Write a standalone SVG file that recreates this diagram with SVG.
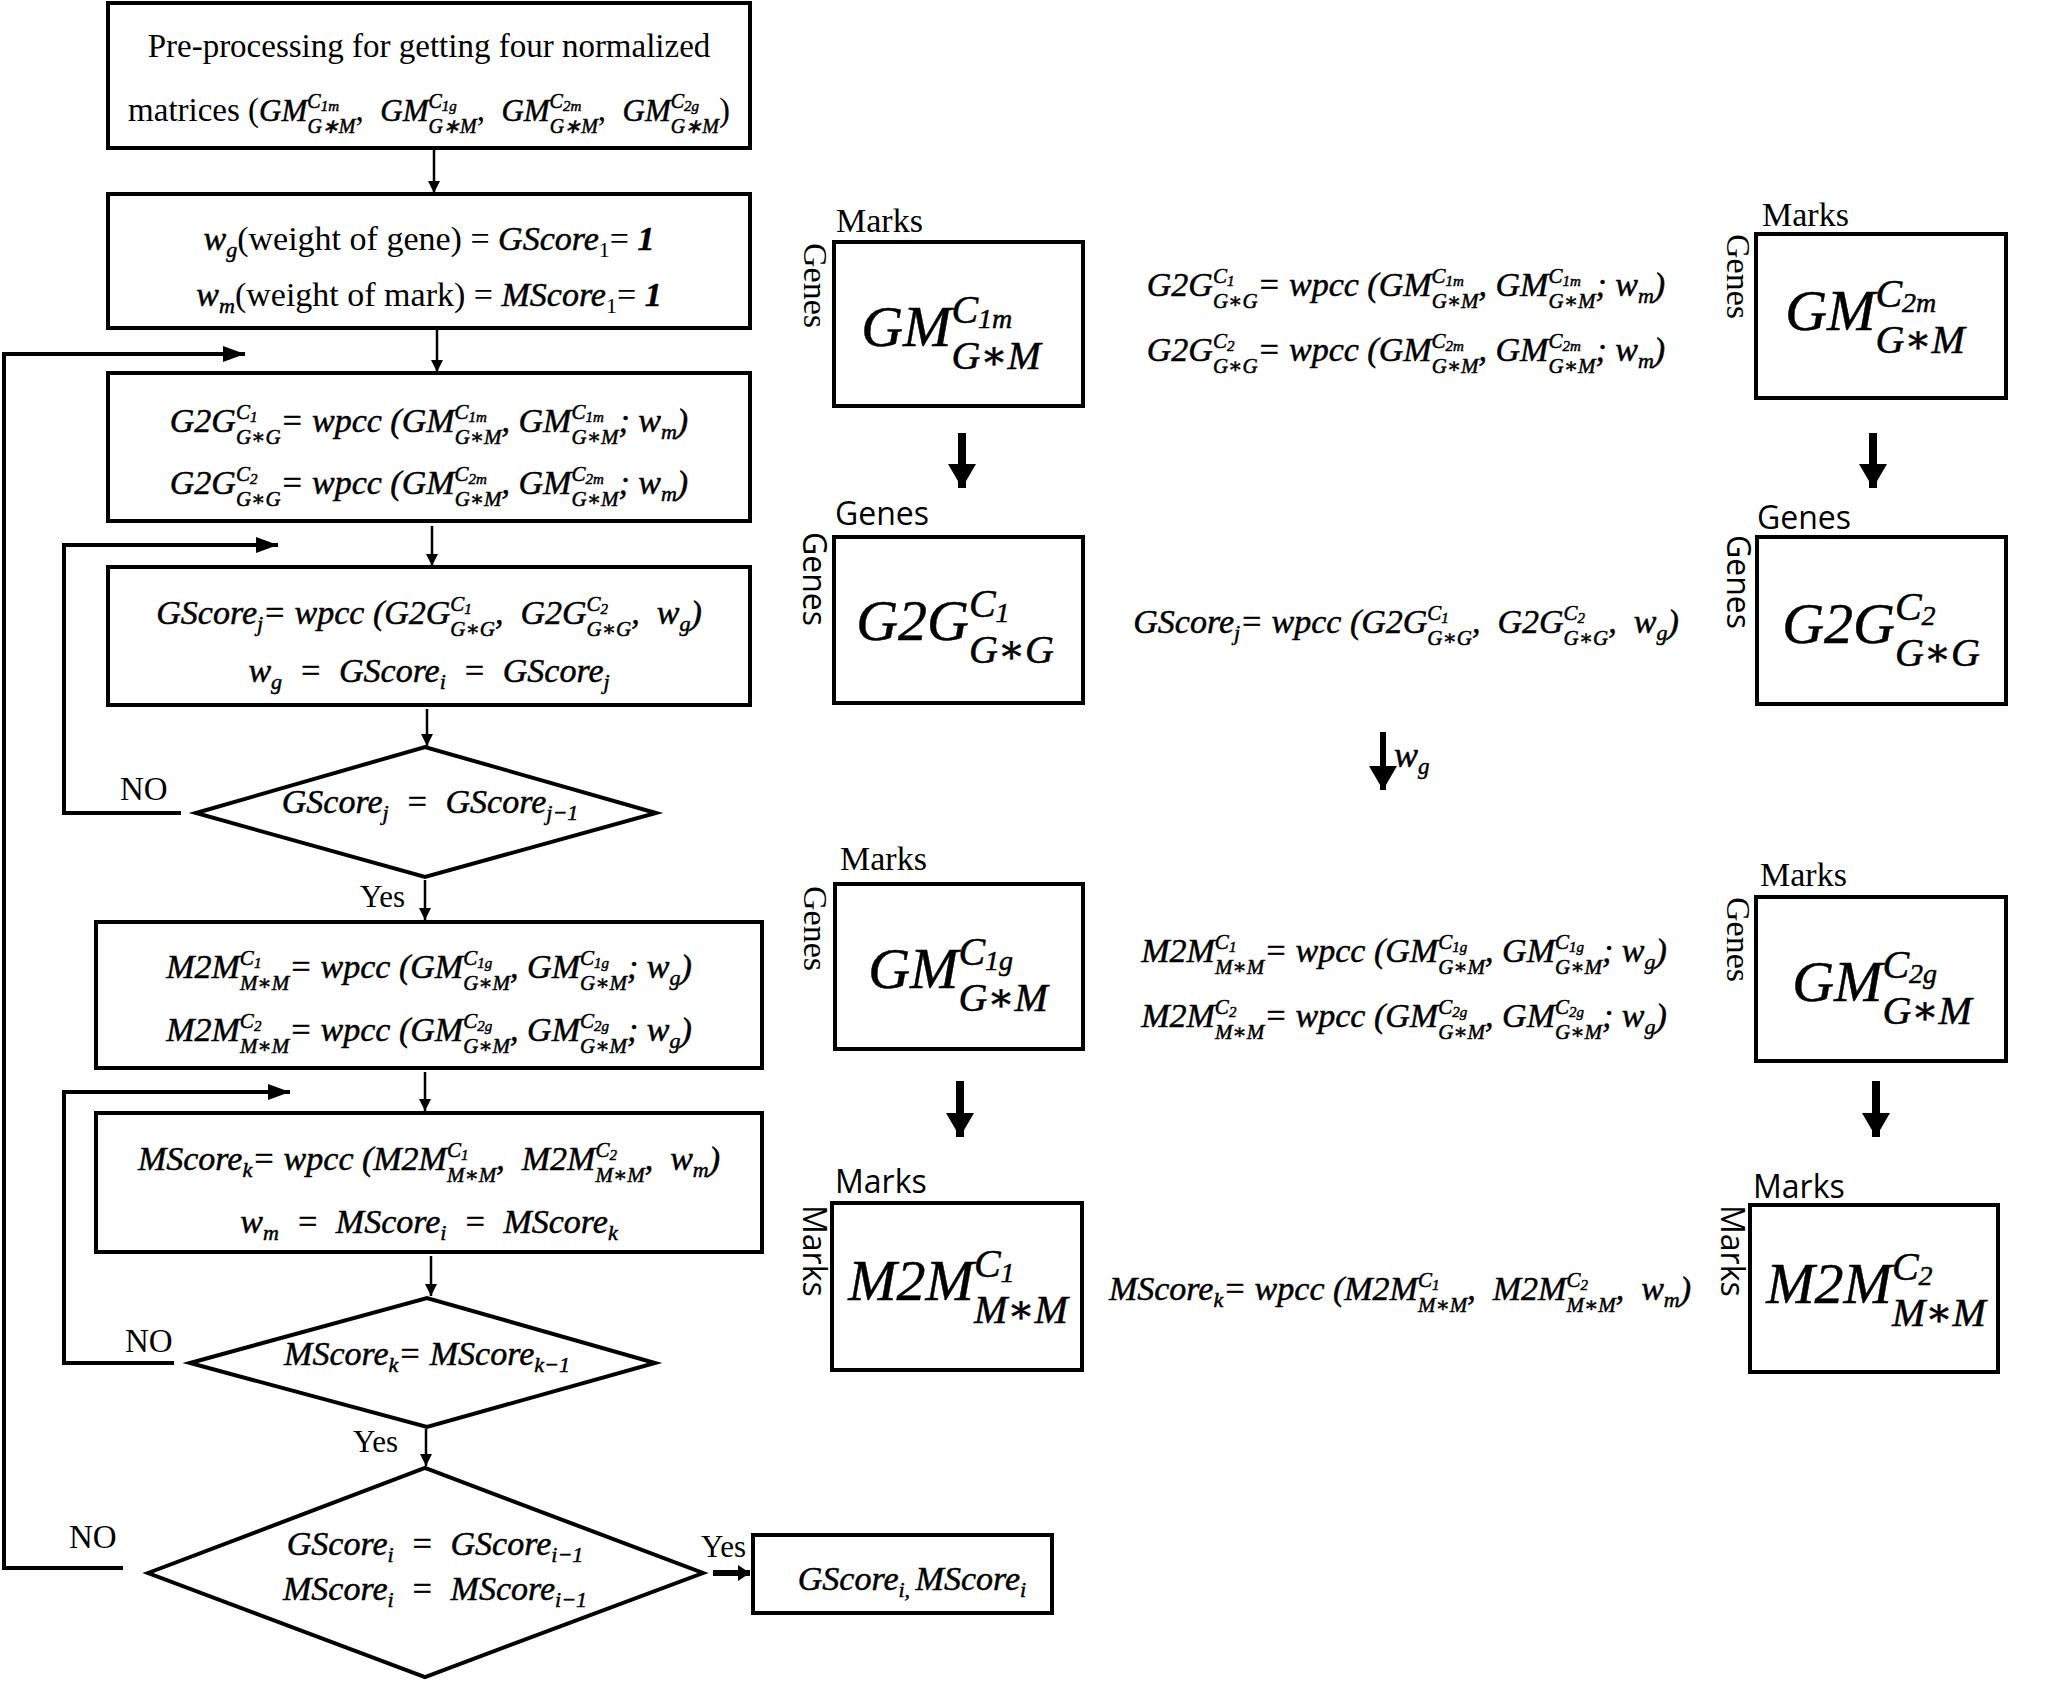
<svg xmlns="http://www.w3.org/2000/svg" width="2059" height="1681" viewBox="0 0 2059 1681">
<style>
text { white-space: pre; fill: #000; }
.t { font-family: "Liberation Serif", "Times New Roman", serif; }
.m { font-family: "Liberation Serif", "DejaVu Serif", serif; font-style: italic; stroke: #000; stroke-width: 0.5; }
.s { font-family: "Open Sans", "Noto Sans", sans-serif; }
.i { font-style: italic; stroke: #000; stroke-width: 0.5; }
.box { fill: #fff; stroke: #000; stroke-width: 4; }
.con { fill: none; stroke: #000; }
</style>
<defs>
<marker id="ahS" viewBox="0 0 12 12" refX="12" refY="6" markerWidth="12" markerHeight="12" markerUnits="userSpaceOnUse" orient="auto"><path d="M0,0 L12,6 L0,12 z"/></marker>
<marker id="ahL" viewBox="0 0 22 16" refX="22" refY="8" markerWidth="22" markerHeight="16" markerUnits="userSpaceOnUse" orient="auto"><path d="M0,0 L22,8 L0,16 z"/></marker>
<marker id="ahM" viewBox="0 0 12 16" refX="12" refY="8" markerWidth="12" markerHeight="16" markerUnits="userSpaceOnUse" orient="auto"><path d="M0,0 L12,8 L0,16 z"/></marker>
<marker id="ahB" viewBox="0 0 24 28" refX="24" refY="14" markerWidth="24" markerHeight="28" markerUnits="userSpaceOnUse" orient="auto"><path d="M0,0 L24,14 L0,28 z"/></marker>
</defs>
<rect width="2059" height="1681" fill="#fff"/>

<g id="connectors">
<line class="con" x1="434" y1="150" x2="434" y2="193" stroke-width="2.5" marker-end="url(#ahS)"/>
<line class="con" x1="437" y1="330" x2="437" y2="372" stroke-width="2.5" marker-end="url(#ahS)"/>
<line class="con" x1="432" y1="526" x2="432" y2="566" stroke-width="2.5" marker-end="url(#ahS)"/>
<line class="con" x1="427" y1="709" x2="427" y2="746" stroke-width="2.5" marker-end="url(#ahS)"/>
<line class="con" x1="425" y1="880" x2="425" y2="920" stroke-width="2.5" marker-end="url(#ahS)"/>
<line class="con" x1="425" y1="1072" x2="425" y2="1111" stroke-width="2.5" marker-end="url(#ahS)"/>
<line class="con" x1="431" y1="1256" x2="431" y2="1296" stroke-width="2.5" marker-end="url(#ahS)"/>
<line class="con" x1="426" y1="1429" x2="426" y2="1466" stroke-width="2.5" marker-end="url(#ahS)"/>
<line class="con" x1="713" y1="1573" x2="750" y2="1573" stroke-width="6" marker-end="url(#ahM)"/>
<polyline class="con" points="123,1568 4,1568 4,354 245,354" stroke-width="4" marker-end="url(#ahL)"/>
<polyline class="con" points="181,813 64,813 64,545 278,545" stroke-width="4" marker-end="url(#ahL)"/>
<polyline class="con" points="174,1363 64,1363 64,1092 290,1092" stroke-width="4" marker-end="url(#ahL)"/>
<line class="con" x1="962" y1="433" x2="962" y2="488" stroke-width="8" marker-end="url(#ahB)"/>
<line class="con" x1="1873" y1="433" x2="1873" y2="488" stroke-width="8" marker-end="url(#ahB)"/>
<line class="con" x1="960" y1="1081" x2="960" y2="1137" stroke-width="8" marker-end="url(#ahB)"/>
<line class="con" x1="1876" y1="1081" x2="1876" y2="1137" stroke-width="8" marker-end="url(#ahB)"/>
<line class="con" x1="1383" y1="732" x2="1383" y2="790" stroke-width="6" marker-end="url(#ahB)"/>
<text class="m" x="1394" y="767" font-size="36">w<tspan font-size="23" dy="7">g</tspan></text>
<text class="t" x="120" y="800" font-size="33">NO</text>
<text class="t" x="125" y="1352" font-size="33">NO</text>
<text class="t" x="69" y="1548" font-size="33">NO</text>
<text class="t" x="360" y="907" font-size="31">Yes</text>
<text class="t" x="353" y="1452" font-size="31">Yes</text>
<text class="t" x="701" y="1557" font-size="31">Yes</text>
</g>

<g id="preprocess">
<rect class="box" x="108" y="3" width="642" height="145"/>
<text class="t" x="429" y="57" font-size="33" text-anchor="middle">Pre-processing for getting four normalized</text>
<text class="t" x="429" y="121" font-size="33" text-anchor="middle">matrices (<tspan class="i" font-size="31">GM</tspan><tspan class="i" font-size="20" dy="-13">C</tspan><tspan class="i" font-size="15" dy="3">1m</tspan><tspan class="i" font-size="20" dx="-31.6" dy="22">G∗M</tspan><tspan dy="-12">,  </tspan><tspan class="i" font-size="31">GM</tspan><tspan class="i" font-size="20" dy="-13">C</tspan><tspan class="i" font-size="15" dy="3">1g</tspan><tspan class="i" font-size="20" dx="-28.3" dy="22">G∗M</tspan><tspan dy="-12">,  </tspan><tspan class="i" font-size="31">GM</tspan><tspan class="i" font-size="20" dy="-13">C</tspan><tspan class="i" font-size="15" dy="3">2m</tspan><tspan class="i" font-size="20" dx="-31.6" dy="22">G∗M</tspan><tspan dy="-12">,  </tspan><tspan class="i" font-size="31">GM</tspan><tspan class="i" font-size="20" dy="-13">C</tspan><tspan class="i" font-size="15" dy="3">2g</tspan><tspan class="i" font-size="20" dx="-28.3" dy="22">G∗M</tspan><tspan dy="-12">)</tspan></text>
</g>

<g id="init-weights">
<rect class="box" x="108" y="194" width="642" height="134"/>
<text class="t" x="429" y="250" font-size="34" text-anchor="middle"><tspan class="i" font-size="34">w</tspan><tspan class="i" font-size="22" dy="7">g</tspan><tspan dy="-7">(weight of gene) = </tspan><tspan class="i" font-size="34">GScore</tspan><tspan font-size="22" dy="7">1</tspan><tspan dy="-7">= </tspan><tspan class="i" font-weight="bold" font-size="34">1</tspan></text>
<text class="t" x="429" y="306" font-size="34" text-anchor="middle"><tspan class="i" font-size="34">w</tspan><tspan class="i" font-size="22" dy="7">m</tspan><tspan dy="-7">(weight of mark) = </tspan><tspan class="i" font-size="34">MScore</tspan><tspan font-size="22" dy="7">1</tspan><tspan dy="-7">= </tspan><tspan class="i" font-weight="bold" font-size="34">1</tspan></text>
</g>

<g id="g2g-step">
<rect class="box" x="108" y="373" width="642" height="148"/>
<text class="m" x="429" y="432" font-size="34" text-anchor="middle">G2G<tspan font-size="21" dy="-13">C</tspan><tspan font-size="15" dy="3">1</tspan><tspan font-size="21" dx="-21.5" dy="22">G∗G</tspan><tspan dy="-12">= wpcc (GM</tspan><tspan font-size="21" dy="-13">C</tspan><tspan font-size="15" dy="3">1m</tspan><tspan font-size="21" dx="-32.3" dy="22">G∗M</tspan><tspan dy="-12">, GM</tspan><tspan font-size="21" dy="-13">C</tspan><tspan font-size="15" dy="3">1m</tspan><tspan font-size="21" dx="-32.3" dy="22">G∗M</tspan><tspan dy="-12">; w</tspan><tspan font-size="22" dy="7">m</tspan><tspan dy="-7">)</tspan></text>
<text class="m" x="429" y="494" font-size="34" text-anchor="middle">G2G<tspan font-size="21" dy="-13">C</tspan><tspan font-size="15" dy="3">2</tspan><tspan font-size="21" dx="-21.5" dy="22">G∗G</tspan><tspan dy="-12">= wpcc (GM</tspan><tspan font-size="21" dy="-13">C</tspan><tspan font-size="15" dy="3">2m</tspan><tspan font-size="21" dx="-32.3" dy="22">G∗M</tspan><tspan dy="-12">, GM</tspan><tspan font-size="21" dy="-13">C</tspan><tspan font-size="15" dy="3">2m</tspan><tspan font-size="21" dx="-32.3" dy="22">G∗M</tspan><tspan dy="-12">; w</tspan><tspan font-size="22" dy="7">m</tspan><tspan dy="-7">)</tspan></text>
</g>

<g id="gscore-step">
<rect class="box" x="108" y="567" width="642" height="138"/>
<text class="m" x="429" y="624" font-size="34" text-anchor="middle">GScore<tspan font-size="22" dy="7">j</tspan><tspan dy="-7">= wpcc (G2G</tspan><tspan font-size="21" dy="-13">C</tspan><tspan font-size="15" dy="3">1</tspan><tspan font-size="21" dx="-21.5" dy="22">G∗G</tspan><tspan dy="-12">,  G2G</tspan><tspan font-size="21" dy="-13">C</tspan><tspan font-size="15" dy="3">2</tspan><tspan font-size="21" dx="-21.5" dy="22">G∗G</tspan><tspan dy="-12">,  w</tspan><tspan font-size="22" dy="7">g</tspan><tspan dy="-7">)</tspan></text>
<text class="m" x="429" y="682" font-size="34" text-anchor="middle">w<tspan font-size="22" dy="7">g</tspan><tspan dy="-7">  =  GScore</tspan><tspan font-size="22" dy="7">i</tspan><tspan dy="-7">  =  GScore</tspan><tspan font-size="22" dy="7">j</tspan></text>
</g>

<g id="gscore-check">
<polygon class="box" points="196,813 425,747 656,813 425,877"/>
<text class="m" x="430" y="813" font-size="34" text-anchor="middle">GScore<tspan font-size="22" dy="7">j</tspan><tspan dy="-7">  =  GScore</tspan><tspan font-size="22" dy="7">j−1</tspan></text>
</g>

<g id="m2m-step">
<rect class="box" x="96" y="922" width="666" height="146"/>
<text class="m" x="429" y="978" font-size="34" text-anchor="middle">M2M<tspan font-size="21" dy="-13">C</tspan><tspan font-size="15" dy="3">1</tspan><tspan font-size="21" dx="-21.5" dy="22">M∗M</tspan><tspan dy="-12">= wpcc (GM</tspan><tspan font-size="21" dy="-13">C</tspan><tspan font-size="15" dy="3">1g</tspan><tspan font-size="21" dx="-29" dy="22">G∗M</tspan><tspan dy="-12">, GM</tspan><tspan font-size="21" dy="-13">C</tspan><tspan font-size="15" dy="3">1g</tspan><tspan font-size="21" dx="-29" dy="22">G∗M</tspan><tspan dy="-12">; w</tspan><tspan font-size="22" dy="7">g</tspan><tspan dy="-7">)</tspan></text>
<text class="m" x="429" y="1041" font-size="34" text-anchor="middle">M2M<tspan font-size="21" dy="-13">C</tspan><tspan font-size="15" dy="3">2</tspan><tspan font-size="21" dx="-21.5" dy="22">M∗M</tspan><tspan dy="-12">= wpcc (GM</tspan><tspan font-size="21" dy="-13">C</tspan><tspan font-size="15" dy="3">2g</tspan><tspan font-size="21" dx="-29" dy="22">G∗M</tspan><tspan dy="-12">, GM</tspan><tspan font-size="21" dy="-13">C</tspan><tspan font-size="15" dy="3">2g</tspan><tspan font-size="21" dx="-29" dy="22">G∗M</tspan><tspan dy="-12">; w</tspan><tspan font-size="22" dy="7">g</tspan><tspan dy="-7">)</tspan></text>
</g>

<g id="mscore-step">
<rect class="box" x="96" y="1113" width="666" height="139"/>
<text class="m" x="429" y="1170" font-size="34" text-anchor="middle">MScore<tspan font-size="22" dy="7">k</tspan><tspan dy="-7">= wpcc (M2M</tspan><tspan font-size="21" dy="-13">C</tspan><tspan font-size="15" dy="3">1</tspan><tspan font-size="21" dx="-21.5" dy="22">M∗M</tspan><tspan dy="-12">,  M2M</tspan><tspan font-size="21" dy="-13">C</tspan><tspan font-size="15" dy="3">2</tspan><tspan font-size="21" dx="-21.5" dy="22">M∗M</tspan><tspan dy="-12">,  w</tspan><tspan font-size="22" dy="7">m</tspan><tspan dy="-7">)</tspan></text>
<text class="m" x="429" y="1233" font-size="34" text-anchor="middle">w<tspan font-size="22" dy="7">m</tspan><tspan dy="-7">  =  MScore</tspan><tspan font-size="22" dy="7">i</tspan><tspan dy="-7">  =  MScore</tspan><tspan font-size="22" dy="7">k</tspan></text>
</g>

<g id="mscore-check">
<polygon class="box" points="190,1363 427,1298 655,1363 427,1427"/>
<text class="m" x="427" y="1365" font-size="34" text-anchor="middle">MScore<tspan font-size="22" dy="7">k</tspan><tspan dy="-7">= MScore</tspan><tspan font-size="22" dy="7">k−1</tspan></text>
</g>

<g id="converge-check">
<polygon class="box" points="148,1573 425,1468 703,1573 425,1677"/>
<text class="m" x="435" y="1555" font-size="34" text-anchor="middle">GScore<tspan font-size="22" dy="7">i</tspan><tspan dy="-7">  =  GScore</tspan><tspan font-size="22" dy="7">i−1</tspan></text>
<text class="m" x="435" y="1600" font-size="34" text-anchor="middle">MScore<tspan font-size="22" dy="7">i</tspan><tspan dy="-7">  =  MScore</tspan><tspan font-size="22" dy="7">i−1</tspan></text>
</g>

<g id="output">
<rect class="box" x="753" y="1535" width="299" height="78"/>
<text class="m" x="912" y="1590" font-size="34" text-anchor="middle">GScore<tspan font-size="22" dy="7">i, </tspan><tspan dy="-7">MScore</tspan><tspan font-size="22" dy="7">i</tspan></text>
</g>

<g id="gm-c1m">
<text class="t" x="836" y="232" font-size="34">Marks</text>
<text class="t" font-size="34" transform="translate(804,243) rotate(90)">Genes</text>
<rect class="box" x="834" y="242" width="249" height="164"/>
<text class="m" x="951" y="346" font-size="58" text-anchor="middle">GM<tspan font-size="40" dy="-23">C</tspan><tspan font-size="28" dy="5">1m</tspan><tspan font-size="40" dx="-60.9" dy="41">G∗M</tspan></text>
</g>

<g id="g2g-c1">
<text class="s" x="835" y="525" font-size="32">Genes</text>
<text class="s" font-size="32" transform="translate(803,532) rotate(90)">Genes</text>
<rect class="box" x="834" y="537" width="249" height="166"/>
<text class="m" x="955" y="640" font-size="58" text-anchor="middle">G2G<tspan font-size="40" dy="-23">C</tspan><tspan font-size="28" dy="5">1</tspan><tspan font-size="40" dx="-40.7" dy="41">G∗G</tspan></text>
</g>

<g id="gm-c1g">
<text class="t" x="840" y="870" font-size="34">Marks</text>
<text class="t" font-size="34" transform="translate(804,886) rotate(90)">Genes</text>
<rect class="box" x="835" y="884" width="248" height="165"/>
<text class="m" x="958" y="988" font-size="58" text-anchor="middle">GM<tspan font-size="40" dy="-23">C</tspan><tspan font-size="28" dy="5">1g</tspan><tspan font-size="40" dx="-54.7" dy="41">G∗M</tspan></text>
</g>

<g id="m2m-c1">
<text class="s" x="835" y="1193" font-size="32">Marks</text>
<text class="s" font-size="32" transform="translate(803,1205) rotate(90)">Marks</text>
<rect class="box" x="832" y="1203" width="250" height="167"/>
<text class="m" x="958" y="1300" font-size="58" text-anchor="middle">M2M<tspan font-size="40" dy="-23">C</tspan><tspan font-size="28" dy="5">1</tspan><tspan font-size="40" dx="-40.7" dy="41">M∗M</tspan></text>
</g>

<g id="gm-c2m">
<text class="t" x="1762" y="226" font-size="34">Marks</text>
<text class="t" font-size="34" transform="translate(1727,234) rotate(90)">Genes</text>
<rect class="box" x="1756" y="234" width="250" height="164"/>
<text class="m" x="1875" y="330" font-size="58" text-anchor="middle">GM<tspan font-size="40" dy="-23">C</tspan><tspan font-size="28" dy="5">2m</tspan><tspan font-size="40" dx="-60.9" dy="41">G∗M</tspan></text>
</g>

<g id="g2g-c2">
<text class="s" x="1757" y="529" font-size="32">Genes</text>
<text class="s" font-size="32" transform="translate(1727,535) rotate(90)">Genes</text>
<rect class="box" x="1757" y="537" width="249" height="167"/>
<text class="m" x="1881" y="643" font-size="58" text-anchor="middle">G2G<tspan font-size="40" dy="-23">C</tspan><tspan font-size="28" dy="5">2</tspan><tspan font-size="40" dx="-40.7" dy="41">G∗G</tspan></text>
</g>

<g id="gm-c2g">
<text class="t" x="1760" y="886" font-size="34">Marks</text>
<text class="t" font-size="34" transform="translate(1727,897) rotate(90)">Genes</text>
<rect class="box" x="1756" y="897" width="250" height="164"/>
<text class="m" x="1882" y="1001" font-size="58" text-anchor="middle">GM<tspan font-size="40" dy="-23">C</tspan><tspan font-size="28" dy="5">2g</tspan><tspan font-size="40" dx="-54.7" dy="41">G∗M</tspan></text>
</g>

<g id="m2m-c2">
<text class="s" x="1753" y="1198" font-size="32">Marks</text>
<text class="s" font-size="32" transform="translate(1721,1205) rotate(90)">Marks</text>
<rect class="box" x="1750" y="1205" width="248" height="167"/>
<text class="m" x="1876" y="1303" font-size="58" text-anchor="middle">M2M<tspan font-size="40" dy="-23">C</tspan><tspan font-size="28" dy="5">2</tspan><tspan font-size="40" dx="-40.7" dy="41">M∗M</tspan></text>
</g>

<g id="formulas-right">
<text class="m" x="1406" y="296" font-size="34" text-anchor="middle">G2G<tspan font-size="21" dy="-13">C</tspan><tspan font-size="15" dy="3">1</tspan><tspan font-size="21" dx="-21.5" dy="22">G∗G</tspan><tspan dy="-12">= wpcc (GM</tspan><tspan font-size="21" dy="-13">C</tspan><tspan font-size="15" dy="3">1m</tspan><tspan font-size="21" dx="-32.3" dy="22">G∗M</tspan><tspan dy="-12">, GM</tspan><tspan font-size="21" dy="-13">C</tspan><tspan font-size="15" dy="3">1m</tspan><tspan font-size="21" dx="-32.3" dy="22">G∗M</tspan><tspan dy="-12">; w</tspan><tspan font-size="22" dy="7">m</tspan><tspan dy="-7">)</tspan></text>
<text class="m" x="1406" y="361" font-size="34" text-anchor="middle">G2G<tspan font-size="21" dy="-13">C</tspan><tspan font-size="15" dy="3">2</tspan><tspan font-size="21" dx="-21.5" dy="22">G∗G</tspan><tspan dy="-12">= wpcc (GM</tspan><tspan font-size="21" dy="-13">C</tspan><tspan font-size="15" dy="3">2m</tspan><tspan font-size="21" dx="-32.3" dy="22">G∗M</tspan><tspan dy="-12">, GM</tspan><tspan font-size="21" dy="-13">C</tspan><tspan font-size="15" dy="3">2m</tspan><tspan font-size="21" dx="-32.3" dy="22">G∗M</tspan><tspan dy="-12">; w</tspan><tspan font-size="22" dy="7">m</tspan><tspan dy="-7">)</tspan></text>
<text class="m" x="1406" y="633" font-size="34" text-anchor="middle">GScore<tspan font-size="22" dy="7">j</tspan><tspan dy="-7">= wpcc (G2G</tspan><tspan font-size="21" dy="-13">C</tspan><tspan font-size="15" dy="3">1</tspan><tspan font-size="21" dx="-21.5" dy="22">G∗G</tspan><tspan dy="-12">,  G2G</tspan><tspan font-size="21" dy="-13">C</tspan><tspan font-size="15" dy="3">2</tspan><tspan font-size="21" dx="-21.5" dy="22">G∗G</tspan><tspan dy="-12">,  w</tspan><tspan font-size="22" dy="7">g</tspan><tspan dy="-7">)</tspan></text>
<text class="m" x="1404" y="962" font-size="34" text-anchor="middle">M2M<tspan font-size="21" dy="-13">C</tspan><tspan font-size="15" dy="3">1</tspan><tspan font-size="21" dx="-21.5" dy="22">M∗M</tspan><tspan dy="-12">= wpcc (GM</tspan><tspan font-size="21" dy="-13">C</tspan><tspan font-size="15" dy="3">1g</tspan><tspan font-size="21" dx="-29" dy="22">G∗M</tspan><tspan dy="-12">, GM</tspan><tspan font-size="21" dy="-13">C</tspan><tspan font-size="15" dy="3">1g</tspan><tspan font-size="21" dx="-29" dy="22">G∗M</tspan><tspan dy="-12">; w</tspan><tspan font-size="22" dy="7">g</tspan><tspan dy="-7">)</tspan></text>
<text class="m" x="1404" y="1027" font-size="34" text-anchor="middle">M2M<tspan font-size="21" dy="-13">C</tspan><tspan font-size="15" dy="3">2</tspan><tspan font-size="21" dx="-21.5" dy="22">M∗M</tspan><tspan dy="-12">= wpcc (GM</tspan><tspan font-size="21" dy="-13">C</tspan><tspan font-size="15" dy="3">2g</tspan><tspan font-size="21" dx="-29" dy="22">G∗M</tspan><tspan dy="-12">, GM</tspan><tspan font-size="21" dy="-13">C</tspan><tspan font-size="15" dy="3">2g</tspan><tspan font-size="21" dx="-29" dy="22">G∗M</tspan><tspan dy="-12">; w</tspan><tspan font-size="22" dy="7">g</tspan><tspan dy="-7">)</tspan></text>
<text class="m" x="1400" y="1300" font-size="34" text-anchor="middle">MScore<tspan font-size="22" dy="7">k</tspan><tspan dy="-7">= wpcc (M2M</tspan><tspan font-size="21" dy="-13">C</tspan><tspan font-size="15" dy="3">1</tspan><tspan font-size="21" dx="-21.5" dy="22">M∗M</tspan><tspan dy="-12">,  M2M</tspan><tspan font-size="21" dy="-13">C</tspan><tspan font-size="15" dy="3">2</tspan><tspan font-size="21" dx="-21.5" dy="22">M∗M</tspan><tspan dy="-12">,  w</tspan><tspan font-size="22" dy="7">m</tspan><tspan dy="-7">)</tspan></text>
</g>
</svg>
